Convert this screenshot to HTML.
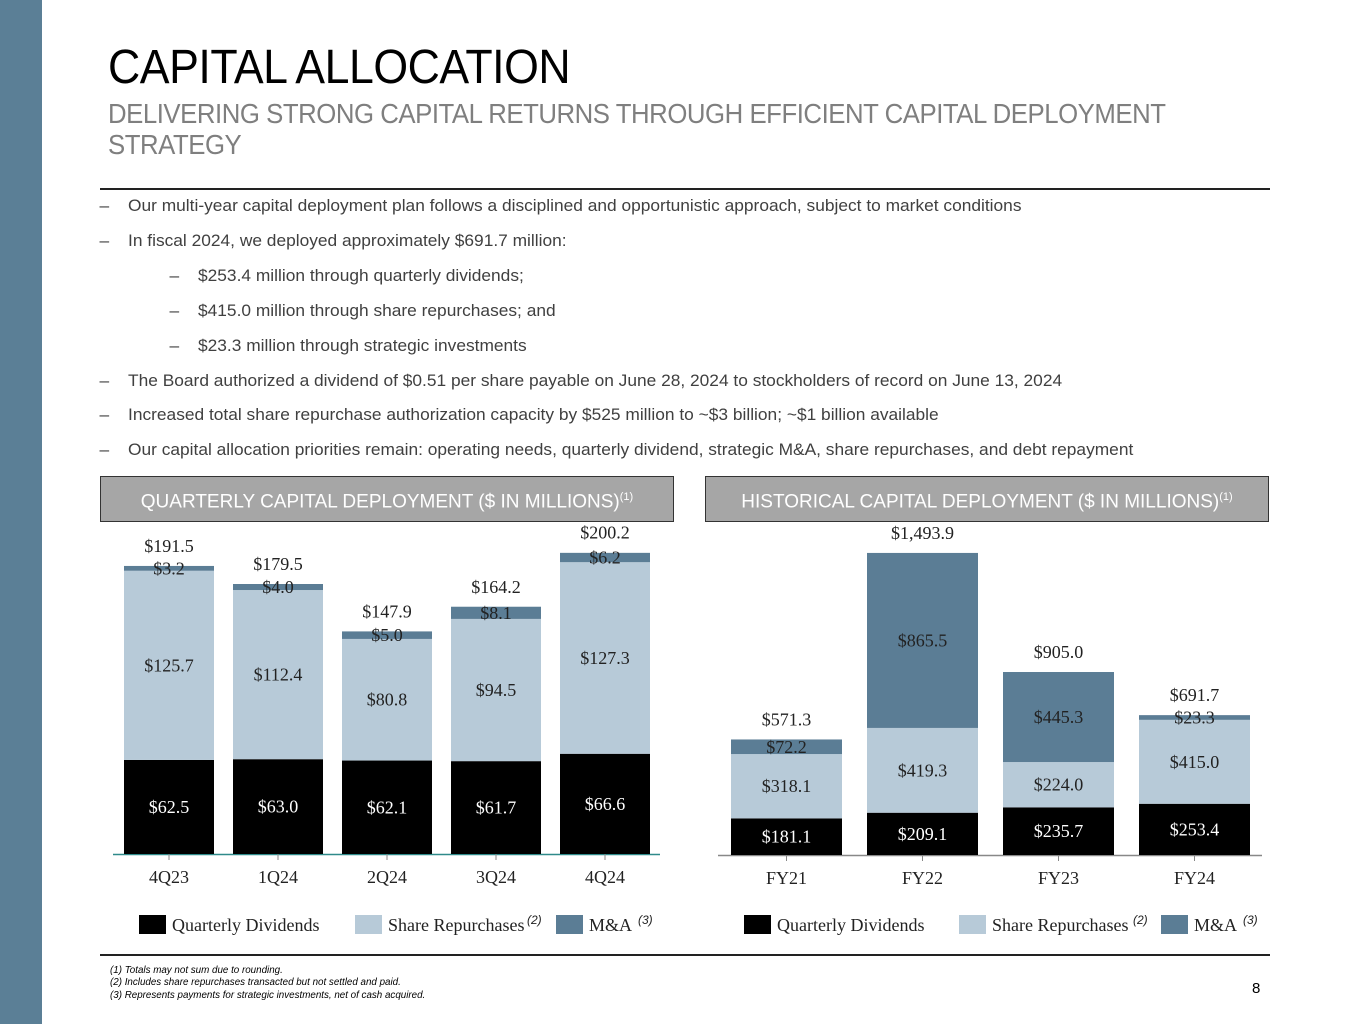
<!DOCTYPE html>
<html><head><meta charset="utf-8"><style>
body{margin:0;width:1365px;height:1024px;position:relative;background:#fff;font-family:"Liberation Sans",sans-serif;overflow:hidden}
.abs{position:absolute}
.b{position:absolute;left:128px;font-size:17px;color:#404040;white-space:nowrap;transform:scaleX(1.02);transform-origin:left}
.b2{left:198px}
.b span{position:absolute;left:-28px}
.hdr{position:absolute;top:476px;background:#a6a6a6;border:1.5px solid #333;color:#fff;font-size:19px;text-align:center;line-height:40px;box-sizing:border-box;height:46px}
.hdr sup{font-size:11px}
.fn{position:absolute;left:110px;font-size:9.8px;font-style:italic;color:#000}
</style></head><body>
<div class="abs" style="left:0;top:0;width:42px;height:1024px;background:#5b7f96"></div>
<div class="abs" style="left:108px;top:40px;font-size:48px;color:#000;letter-spacing:-0.5px;transform:scaleX(0.93);transform-origin:left">CAPITAL ALLOCATION</div>
<div class="abs" style="left:108px;top:98px;font-size:28px;color:#7f7f7f;line-height:31px;width:1250px;letter-spacing:-0.5px;transform:scaleX(0.92);transform-origin:left">DELIVERING STRONG CAPITAL RETURNS THROUGH EFFICIENT CAPITAL DEPLOYMENT<br>STRATEGY</div>
<div class="abs" style="left:100px;top:188px;width:1170px;height:2px;background:#222"></div>
<div class="b" style="top:196px"><span>–</span>Our multi-year capital deployment plan follows a disciplined and opportunistic approach, subject to market conditions</div>
<div class="b" style="top:231px"><span>–</span>In fiscal 2024, we deployed approximately $691.7 million:</div>
<div class="b b2" style="top:266px"><span>–</span>$253.4 million through quarterly dividends;</div>
<div class="b b2" style="top:301px"><span>–</span>$415.0 million through share repurchases; and</div>
<div class="b b2" style="top:336px"><span>–</span>$23.3 million through strategic investments</div>
<div class="b" style="top:371px"><span>–</span>The Board authorized a dividend of $0.51 per share payable on June 28, 2024 to stockholders of record on June 13, 2024</div>
<div class="b" style="top:405px"><span>–</span>Increased total share repurchase authorization capacity by $525 million to ~$3 billion; ~$1 billion available</div>
<div class="b" style="top:440px"><span>–</span>Our capital allocation priorities remain: operating needs, quarterly dividend, strategic M&amp;A, share repurchases, and debt repayment</div>
<div class="hdr" style="left:100px;width:574px">QUARTERLY CAPITAL DEPLOYMENT ($ IN MILLIONS)<sup>(1)</sup></div>
<div class="hdr" style="left:705px;width:564px">HISTORICAL CAPITAL DEPLOYMENT ($ IN MILLIONS)<sup>(1)</sup></div>
<div class="abs" style="left:100px;top:954px;width:1170px;height:2px;background:#222"></div>
<div class="fn" style="top:965px">(1) Totals may not sum due to rounding.</div>
<div class="fn" style="top:977px">(2) Includes share repurchases transacted but not settled and paid.</div>
<div class="fn" style="top:990px">(3) Represents payments for strategic investments, net of cash acquired.</div>
<div class="abs" style="left:1252px;top:980px;font-size:15px">8</div>
<svg id="ch" class="abs" style="left:0;top:0" width="1365" height="1024" font-family="Liberation Serif, serif"></svg>
<script>
const qCats=["4Q23","1Q24","2Q24","3Q24","4Q24"];
const qDiv=[62.5,63.0,62.1,61.7,66.6];
const qRep=[125.7,112.4,80.8,94.5,127.3];
const qMA=[3.2,4.0,5.0,8.1,6.2];
const qTot=[191.5,179.5,147.9,164.2,200.2];
const hCats=["FY21","FY22","FY23","FY24"];
const hDiv=[181.1,209.1,235.7,253.4];
const hRep=[318.1,419.3,224.0,415.0];
const hMA=[72.2,865.5,445.3,23.3];
const hTot=[571.3,1493.9,905.0,691.7];
const C=["#000","#b7cad8","#5b7d95"];
const svg=document.getElementById('ch');
const NS="http://www.w3.org/2000/svg";
function mk(t,a,txt){const e=document.createElementNS(NS,t);for(const k in a)e.setAttribute(k,a[k]);if(txt!=null)e.textContent=txt;svg.appendChild(e);return e;}
function fmt(v){return "$"+v.toLocaleString("en-US",{minimumFractionDigits:1,maximumFractionDigits:1});}
function chart(cfg){
  const {cats,series,tot,x0,step,bw,base,scale,axisX1,axisX2,axisColor,pfx}=cfg;
  const y=v=>base-v*scale;
  const ax=mk('line',{x1:axisX1,x2:axisX2,y1:base+0.5,y2:base+0.5,stroke:axisColor,'stroke-width':1.5});
  
  
  cats.forEach((c,i)=>{
    const x=x0+i*step, cx=x+bw/2;
    let cum=0;
    series.forEach((s,j)=>{
      const v=s[i], top=y(cum+v);
      const r=mk('rect',{x:x,y:top,width:bw,height:v*scale,fill:C[j]});
      
      
      const t=mk('text',{x:cx,y:top+v*scale/2+6,'text-anchor':'middle','font-size':18,fill:j==0?'#fff':'#222'},fmt(v));
      
      
      cum+=v;
    });
    const tt=mk('text',{x:cx,y:y(tot[i])-14,'text-anchor':'middle','font-size':18,fill:'#222'},fmt(tot[i]));
    
    
    mk('line',{x1:cx,x2:cx,y1:base,y2:base+6,stroke:'#888'});
    const tl=mk('text',{x:cx,y:base+29,'text-anchor':'middle','font-size':18,fill:'#222'},c);
    
    
  });
}
chart({cats:qCats,series:[qDiv,qRep,qMA],tot:qTot,x0:124,step:109,bw:90,base:854,scale:1.505,axisX1:113,axisX2:660,axisColor:'#2f8a8a',pfx:'quarterly'});
chart({cats:hCats,series:[hDiv,hRep,hMA],tot:hTot,x0:731,step:136,bw:111,base:855,scale:0.2022,axisX1:718,axisX2:1262,axisColor:'#888',pfx:'historical'});
function legend(x,items,pfx){
  items.forEach(it=>{
    const r=mk('rect',{x:x+it[0],y:915,width:27,height:19,fill:it[1]});
    
    
    const t=mk('text',{x:x+it[0]+33,y:931,'font-size':18,fill:'#222'},it[2]);
    
    
    if(it[3]){mk('text',{x:x+it[0]+it[4],y:924,'font-size':12,'font-style':'italic','font-family':'Liberation Sans, sans-serif',fill:'#222'},it[3]);}
  });
}
legend(139,[[0,C[0],"Quarterly Dividends"],[216,C[1],"Share Repurchases","(2)",172],[417,C[2],"M&A","(3)",82]],'quarterly');
legend(744,[[0,C[0],"Quarterly Dividends"],[215,C[1],"Share Repurchases","(2)",174],[417,C[2],"M&A","(3)",82]],'historical');
</script>
</body></html>
